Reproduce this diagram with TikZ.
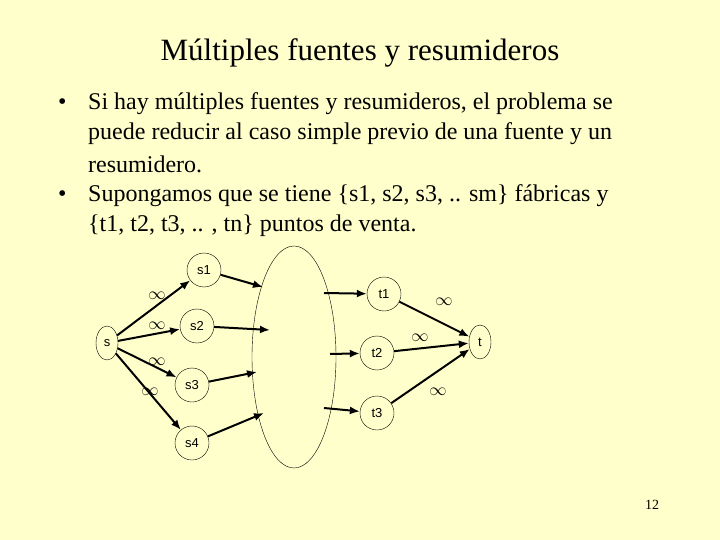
\documentclass[tikz,border=0pt]{standalone}
\usepackage{fontspec}
\setmainfont{Liberation Serif}
\newfontfamily\arialf{Liberation Sans}
\usetikzlibrary{arrows.meta,shapes.geometric}
\definecolor{bg}{HTML}{FFFFCC}
\begin{document}
\begin{tikzpicture}[x=1pt,y=-1pt,
  vert/.style={draw,thin,circle,minimum size=34pt,inner sep=0pt,font=\arialf\fontsize{13}{15}\selectfont},
  term/.style={draw,thin,ellipse,minimum width=22pt,minimum height=34pt,inner sep=0pt,font=\arialf\fontsize{13}{15}\selectfont},
  arr/.style={-{Latex[length=10pt,width=8pt]},line width=2pt},
  inf/.style={font=\fontsize{18}{18}\selectfont},
  body/.style={anchor=west,font=\fontsize{24}{26}\selectfont,inner sep=0pt}]
\fill[bg] (0,0) rectangle (720,540);
\useasboundingbox (0,0) rectangle (720,540);
\node[font=\fontsize{31}{34}\selectfont] (title) at (360,53) {Múltiples fuentes y resumideros};
\node[body] (b1) at (58,104) {•};
\node[body] (l1) at (88,104) {Si hay múltiples fuentes y resumideros, el problema se};
\node[body] (l2) at (88,134) {puede reducir al caso simple previo de una fuente y un};
\node[body] (l3) at (88,164) {resumidero.};
\node[body] (b2) at (58,196) {•};
\node[body] (l4) at (88,196) {Supongamos que se tiene \{s1, s2, s3, .. sm\} fábricas y};
\node[body] (l5) at (88,226) {\{t1, t2, t3, .. , tn\} puntos de venta.};
\node[draw,thin,ellipse,minimum width=84pt,minimum height=222pt] (big) at (294,357) {};
\node[term] (s) at (107,343) {s};
\node[vert] (s1) at (204,270) {s1};
\node[vert] (s2) at (197,326) {s2};
\node[vert] (s3) at (192,385) {s3};
\node[vert] (s4) at (192,443) {s4};
\node[vert] (t1) at (384,294) {t1};
\node[vert] (t2) at (377,353) {t2};
\node[vert] (t3) at (377,413) {t3};
\node[term] (t) at (480,342) {t};
\coordinate (e1) at (263,287); \coordinate (e2) at (270,330);
\coordinate (e3) at (257,372); \coordinate (e4) at (264,413);
\coordinate (f1) at (324,293); \coordinate (f2) at (330,354); \coordinate (f3) at (324,408);
\draw[arr] (s) -- (s1); \draw[arr] (s) -- (s2); \draw[arr] (s) -- (s3); \draw[arr] (s) -- (s4);
\draw[arr] (s1) -- (e1); \draw[arr] (s2) -- (e2); \draw[arr] (s3) -- (e3); \draw[arr] (s4) -- (e4);
\draw[arr] (f1) -- (t1); \draw[arr] (f2) -- (t2); \draw[arr] (f3) -- (t3);
\draw[arr] (t1) -- (t); \draw[arr] (t2) -- (t); \draw[arr] (t3) -- (t);
\node[inf] (i1) at (157,296) {$\infty$};
\node[inf] (i2) at (157,326) {$\infty$};
\node[inf] (i3) at (157,362) {$\infty$};
\node[inf] (i4) at (150,392) {$\infty$};
\node[inf] (i5) at (444,302) {$\infty$};
\node[inf] (i6) at (420,338) {$\infty$};
\node[inf] (i7) at (438,392) {$\infty$};
\node[font=\fontsize{14}{16}\selectfont] (pg) at (652,505) {12};
\end{tikzpicture}
\end{document}
